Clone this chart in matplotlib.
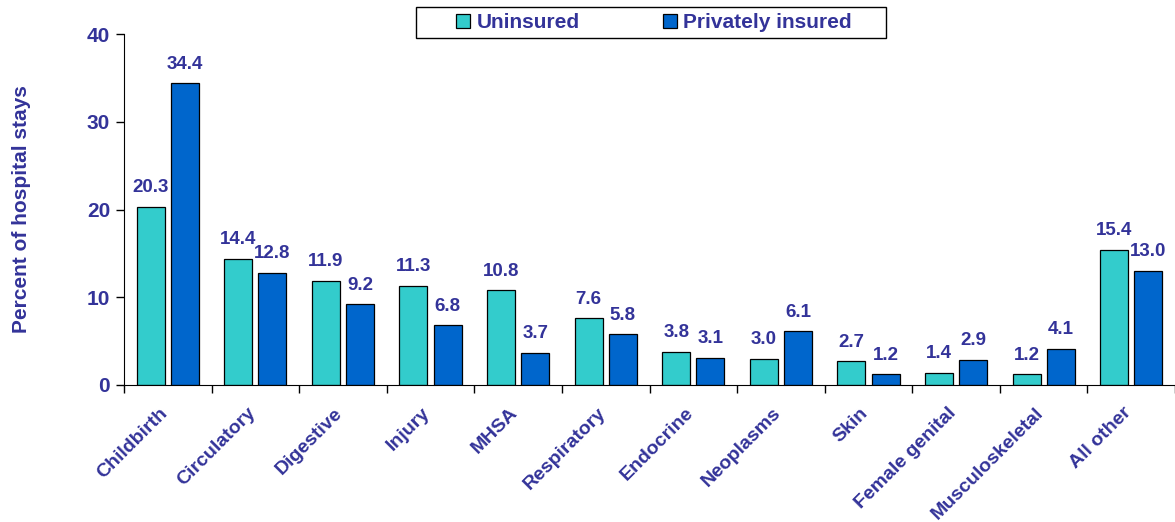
import numpy as np
import matplotlib.pyplot as plt
from matplotlib.patches import Rectangle

plt.rcParams['font.family'] = ['Liberation Sans', 'DejaVu Sans']
plt.rcParams['font.weight'] = 'bold'

categories = ["Childbirth", "Circulatory", "Digestive", "Injury", "MHSA", "Respiratory",
              "Endocrine", "Neoplasms", "Skin", "Female genital", "Musculoskeletal", "All other"]
uninsured = [20.3, 14.4, 11.9, 11.3, 10.8, 7.6, 3.8, 3.0, 2.7, 1.4, 1.2, 15.4]
private = [34.4, 12.8, 9.2, 6.8, 3.7, 5.8, 3.1, 6.1, 1.2, 2.9, 4.1, 13.0]

txt = '#333399'
c_un = '#33CCCC'
c_pr = '#0066CC'

W, H = 1175, 522
fig = plt.figure(figsize=(W/100, H/100), dpi=100)
ax = fig.add_axes([124/W, 137/H, 1051/W, 351/H])

x = np.arange(len(categories))
w = 0.32
off = 0.195
b1 = ax.bar(x - off, uninsured, w, color=c_un, edgecolor='black', linewidth=0.9, label='Uninsured')
b2 = ax.bar(x + off, private, w, color=c_pr, edgecolor='black', linewidth=0.9, label='Privately insured')

for bars, vals in [(b1, uninsured), (b2, private)]:
    for b, v in zip(bars, vals):
        ax.text(b.get_x() + b.get_width()/2, v + 1.2, f"{v:.1f}", ha='center', va='bottom',
                color=txt, fontsize=13.5, fontweight='bold')

ax.set_xlim(-0.5, 11.45)
ax.set_ylim(0, 40)
ax.set_yticks([0, 10, 20, 30, 40])
ax.tick_params(axis='y', labelsize=15, labelcolor=txt, direction='out', length=6, width=1, pad=4)
ax.set_xticks(np.arange(len(categories) + 1) - 0.5)
ax.set_xticklabels([])
ax.tick_params(axis='x', direction='out', length=6, width=1)
for i, c in enumerate(categories):
    ax.annotate(c, xy=(i - 0.1, 0), xycoords=('data', 'axes fraction'), xytext=(0, -14),
                textcoords='offset points', rotation=45, ha='right', va='top',
                rotation_mode='anchor', color=txt, fontsize=14, fontweight='bold')

ax.spines['top'].set_visible(False)
ax.spines['right'].set_visible(False)
ax.set_ylabel('Percent of hospital stays', color=txt, fontsize=15, fontweight='bold', labelpad=40)

# legend box
fig.patches.append(Rectangle((416/W, 1 - 38/H), 470/W, 31/H, transform=fig.transFigure,
                             facecolor='white', edgecolor='black', linewidth=1))
leg = fig.legend(loc='center', bbox_to_anchor=(654/W, 1 - 22.5/H), ncol=2, frameon=False,
                 fontsize=15, handlelength=0.67, handleheight=0.67,
                 handletextpad=0.3, columnspacing=4.0, borderpad=0, borderaxespad=0)
for t in leg.get_texts():
    t.set_color(txt)

fig.savefig('out.png', dpi=100)
